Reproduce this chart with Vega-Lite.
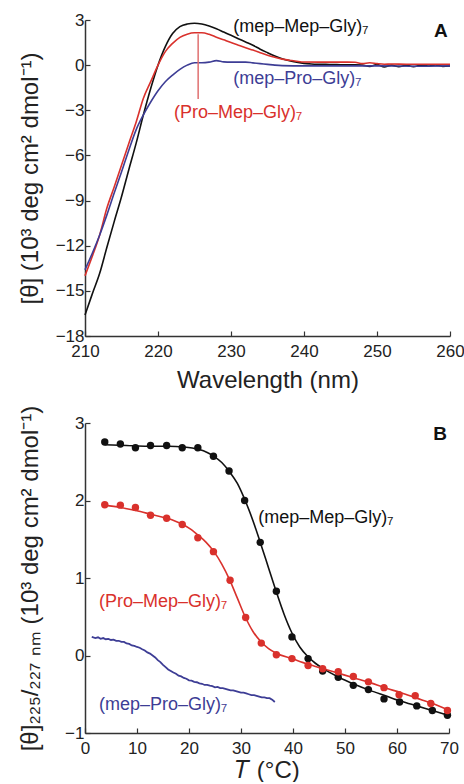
{
  "$schema": "https://vega.github.io/schema/vega-lite/v6.json",
  "padding": {"left": 18, "top": 11, "right": 0, "bottom": 0},
  "spacing": 13,
  "config": {
    "font": "Liberation Sans",
    "view": {"stroke": null},
    "axis": {
      "grid": false,
      "domainColor": "#333",
      "domainWidth": 1.5,
      "tickColor": "#333",
      "tickWidth": 1.2,
      "tickSize": -5,
      "labelFontSize": 17,
      "labelColor": "#222",
      "labelFlush": false,
      "titleFontSize": 24,
      "titleFontWeight": "normal",
      "titleColor": "#222",
      "labelFont": "Liberation Sans",
      "titleFont": "Liberation Sans"
    }
  },
  "datasets": {
    "cd": [
      {"series": "mep-Mep-Gly", "wl": 210, "theta": -16.6}, {"series": "mep-Mep-Gly", "wl": 211, "theta": -15.2}, {"series": "mep-Mep-Gly", "wl": 212, "theta": -13.85}, {"series": "mep-Mep-Gly", "wl": 213, "theta": -12.1}, {"series": "mep-Mep-Gly", "wl": 214, "theta": -10.4}, {"series": "mep-Mep-Gly", "wl": 215, "theta": -8.75}, {"series": "mep-Mep-Gly", "wl": 216, "theta": -6.95}, {"series": "mep-Mep-Gly", "wl": 217, "theta": -5.2}, {"series": "mep-Mep-Gly", "wl": 218, "theta": -3.3}, {"series": "mep-Mep-Gly", "wl": 219, "theta": -1.55}, {"series": "mep-Mep-Gly", "wl": 220, "theta": 0.0}, {"series": "mep-Mep-Gly", "wl": 221, "theta": 1.23}, {"series": "mep-Mep-Gly", "wl": 222, "theta": 2.1}, {"series": "mep-Mep-Gly", "wl": 223, "theta": 2.56}, {"series": "mep-Mep-Gly", "wl": 224, "theta": 2.73}, {"series": "mep-Mep-Gly", "wl": 225, "theta": 2.78}, {"series": "mep-Mep-Gly", "wl": 226, "theta": 2.73}, {"series": "mep-Mep-Gly", "wl": 227, "theta": 2.6}, {"series": "mep-Mep-Gly", "wl": 228, "theta": 2.42}, {"series": "mep-Mep-Gly", "wl": 229, "theta": 2.2}, {"series": "mep-Mep-Gly", "wl": 230, "theta": 1.98}, {"series": "mep-Mep-Gly", "wl": 231, "theta": 1.76}, {"series": "mep-Mep-Gly", "wl": 232, "theta": 1.54}, {"series": "mep-Mep-Gly", "wl": 233, "theta": 1.32}, {"series": "mep-Mep-Gly", "wl": 234, "theta": 1.06}, {"series": "mep-Mep-Gly", "wl": 235, "theta": 0.83}, {"series": "mep-Mep-Gly", "wl": 236, "theta": 0.61}, {"series": "mep-Mep-Gly", "wl": 237, "theta": 0.43}, {"series": "mep-Mep-Gly", "wl": 238, "theta": 0.3}, {"series": "mep-Mep-Gly", "wl": 239, "theta": 0.2}, {"series": "mep-Mep-Gly", "wl": 240, "theta": 0.12}, {"series": "mep-Mep-Gly", "wl": 241, "theta": 0.08}, {"series": "mep-Mep-Gly", "wl": 242, "theta": 0.06}, {"series": "mep-Mep-Gly", "wl": 243, "theta": 0.05}, {"series": "mep-Mep-Gly", "wl": 244, "theta": 0.04}, {"series": "mep-Mep-Gly", "wl": 245, "theta": 0.03}, {"series": "mep-Mep-Gly", "wl": 246, "theta": 0.02}, {"series": "mep-Mep-Gly", "wl": 247, "theta": 0.02}, {"series": "mep-Mep-Gly", "wl": 248, "theta": 0.0}, {"series": "mep-Mep-Gly", "wl": 249, "theta": -0.08}, {"series": "mep-Mep-Gly", "wl": 250, "theta": 0.04}, {"series": "mep-Mep-Gly", "wl": 251, "theta": -0.12}, {"series": "mep-Mep-Gly", "wl": 252, "theta": 0.0}, {"series": "mep-Mep-Gly", "wl": 253, "theta": -0.1}, {"series": "mep-Mep-Gly", "wl": 254, "theta": 0.0}, {"series": "mep-Mep-Gly", "wl": 255, "theta": -0.1}, {"series": "mep-Mep-Gly", "wl": 256, "theta": 0.0}, {"series": "mep-Mep-Gly", "wl": 257, "theta": -0.06}, {"series": "mep-Mep-Gly", "wl": 258, "theta": 0.02}, {"series": "mep-Mep-Gly", "wl": 259, "theta": -0.08}, {"series": "mep-Mep-Gly", "wl": 260, "theta": -0.06},
      {"series": "Pro-Mep-Gly", "wl": 210, "theta": -14.0}, {"series": "Pro-Mep-Gly", "wl": 211, "theta": -12.7}, {"series": "Pro-Mep-Gly", "wl": 212, "theta": -11.3}, {"series": "Pro-Mep-Gly", "wl": 213, "theta": -9.5}, {"series": "Pro-Mep-Gly", "wl": 214, "theta": -8.1}, {"series": "Pro-Mep-Gly", "wl": 215, "theta": -6.65}, {"series": "Pro-Mep-Gly", "wl": 216, "theta": -5.2}, {"series": "Pro-Mep-Gly", "wl": 217, "theta": -3.8}, {"series": "Pro-Mep-Gly", "wl": 218, "theta": -2.2}, {"series": "Pro-Mep-Gly", "wl": 219, "theta": -1.1}, {"series": "Pro-Mep-Gly", "wl": 220, "theta": 0.0}, {"series": "Pro-Mep-Gly", "wl": 221, "theta": 0.9}, {"series": "Pro-Mep-Gly", "wl": 222, "theta": 1.45}, {"series": "Pro-Mep-Gly", "wl": 223, "theta": 1.85}, {"series": "Pro-Mep-Gly", "wl": 224, "theta": 2.06}, {"series": "Pro-Mep-Gly", "wl": 225, "theta": 2.15}, {"series": "Pro-Mep-Gly", "wl": 226, "theta": 2.15}, {"series": "Pro-Mep-Gly", "wl": 227, "theta": 2.05}, {"series": "Pro-Mep-Gly", "wl": 228, "theta": 1.86}, {"series": "Pro-Mep-Gly", "wl": 229, "theta": 1.68}, {"series": "Pro-Mep-Gly", "wl": 230, "theta": 1.5}, {"series": "Pro-Mep-Gly", "wl": 231, "theta": 1.33}, {"series": "Pro-Mep-Gly", "wl": 232, "theta": 1.16}, {"series": "Pro-Mep-Gly", "wl": 233, "theta": 1.0}, {"series": "Pro-Mep-Gly", "wl": 234, "theta": 0.83}, {"series": "Pro-Mep-Gly", "wl": 235, "theta": 0.66}, {"series": "Pro-Mep-Gly", "wl": 236, "theta": 0.52}, {"series": "Pro-Mep-Gly", "wl": 237, "theta": 0.4}, {"series": "Pro-Mep-Gly", "wl": 238, "theta": 0.33}, {"series": "Pro-Mep-Gly", "wl": 239, "theta": 0.26}, {"series": "Pro-Mep-Gly", "wl": 240, "theta": 0.21}, {"series": "Pro-Mep-Gly", "wl": 242, "theta": 0.2}, {"series": "Pro-Mep-Gly", "wl": 244, "theta": 0.2}, {"series": "Pro-Mep-Gly", "wl": 246, "theta": 0.2}, {"series": "Pro-Mep-Gly", "wl": 247, "theta": 0.19}, {"series": "Pro-Mep-Gly", "wl": 248, "theta": 0.1}, {"series": "Pro-Mep-Gly", "wl": 249, "theta": 0.16}, {"series": "Pro-Mep-Gly", "wl": 250, "theta": 0.1}, {"series": "Pro-Mep-Gly", "wl": 251, "theta": 0.06}, {"series": "Pro-Mep-Gly", "wl": 252, "theta": 0.08}, {"series": "Pro-Mep-Gly", "wl": 254, "theta": 0.06}, {"series": "Pro-Mep-Gly", "wl": 256, "theta": 0.06}, {"series": "Pro-Mep-Gly", "wl": 258, "theta": 0.06}, {"series": "Pro-Mep-Gly", "wl": 260, "theta": 0.05},
      {"series": "mep-Pro-Gly", "wl": 210, "theta": -13.6}, {"series": "mep-Pro-Gly", "wl": 211, "theta": -12.5}, {"series": "mep-Pro-Gly", "wl": 212, "theta": -11.3}, {"series": "mep-Pro-Gly", "wl": 213, "theta": -9.95}, {"series": "mep-Pro-Gly", "wl": 214, "theta": -8.5}, {"series": "mep-Pro-Gly", "wl": 215, "theta": -7.1}, {"series": "mep-Pro-Gly", "wl": 216, "theta": -5.65}, {"series": "mep-Pro-Gly", "wl": 217, "theta": -4.3}, {"series": "mep-Pro-Gly", "wl": 218, "theta": -3.3}, {"series": "mep-Pro-Gly", "wl": 219, "theta": -2.45}, {"series": "mep-Pro-Gly", "wl": 220, "theta": -1.7}, {"series": "mep-Pro-Gly", "wl": 221, "theta": -1.1}, {"series": "mep-Pro-Gly", "wl": 222, "theta": -0.66}, {"series": "mep-Pro-Gly", "wl": 223, "theta": -0.28}, {"series": "mep-Pro-Gly", "wl": 224, "theta": 0.0}, {"series": "mep-Pro-Gly", "wl": 225, "theta": 0.16}, {"series": "mep-Pro-Gly", "wl": 226, "theta": 0.16}, {"series": "mep-Pro-Gly", "wl": 227, "theta": 0.2}, {"series": "mep-Pro-Gly", "wl": 228, "theta": 0.3}, {"series": "mep-Pro-Gly", "wl": 229, "theta": 0.22}, {"series": "mep-Pro-Gly", "wl": 230, "theta": 0.2}, {"series": "mep-Pro-Gly", "wl": 232, "theta": 0.2}, {"series": "mep-Pro-Gly", "wl": 233, "theta": 0.15}, {"series": "mep-Pro-Gly", "wl": 234, "theta": 0.1}, {"series": "mep-Pro-Gly", "wl": 235, "theta": 0.05}, {"series": "mep-Pro-Gly", "wl": 236, "theta": 0.0}, {"series": "mep-Pro-Gly", "wl": 237, "theta": -0.03}, {"series": "mep-Pro-Gly", "wl": 240, "theta": -0.05}, {"series": "mep-Pro-Gly", "wl": 245, "theta": -0.05}, {"series": "mep-Pro-Gly", "wl": 250, "theta": -0.05}, {"series": "mep-Pro-Gly", "wl": 255, "theta": -0.07}, {"series": "mep-Pro-Gly", "wl": 260, "theta": -0.05}
    ],
    "cdLabels": [
      {"series": "mep-Mep-Gly", "label": "(mep–Mep–Gly)₇", "wl": 230.3, "theta": 2.55},
      {"series": "mep-Pro-Gly", "label": "(mep–Pro–Gly)₇", "wl": 230.3, "theta": -0.92},
      {"series": "Pro-Mep-Gly", "label": "(Pro–Mep–Gly)₇", "wl": 222.2, "theta": -3.2}
    ],
    "meltPoints": [
      {"series": "mep-Mep-Gly", "T": 3.8, "theta": 2.755}, {"series": "mep-Mep-Gly", "T": 6.8, "theta": 2.73}, {"series": "mep-Mep-Gly", "T": 9.7, "theta": 2.68}, {"series": "mep-Mep-Gly", "T": 12.6, "theta": 2.71}, {"series": "mep-Mep-Gly", "T": 15.7, "theta": 2.71}, {"series": "mep-Mep-Gly", "T": 18.7, "theta": 2.68}, {"series": "mep-Mep-Gly", "T": 21.7, "theta": 2.68}, {"series": "mep-Mep-Gly", "T": 24.7, "theta": 2.57}, {"series": "mep-Mep-Gly", "T": 27.7, "theta": 2.38}, {"series": "mep-Mep-Gly", "T": 30.7, "theta": 2.0}, {"series": "mep-Mep-Gly", "T": 33.7, "theta": 1.46}, {"series": "mep-Mep-Gly", "T": 36.8, "theta": 0.83}, {"series": "mep-Mep-Gly", "T": 39.8, "theta": 0.24}, {"series": "mep-Mep-Gly", "T": 42.9, "theta": -0.04}, {"series": "mep-Mep-Gly", "T": 45.7, "theta": -0.2}, {"series": "mep-Mep-Gly", "T": 48.7, "theta": -0.28}, {"series": "mep-Mep-Gly", "T": 51.6, "theta": -0.385}, {"series": "mep-Mep-Gly", "T": 54.5, "theta": -0.44}, {"series": "mep-Mep-Gly", "T": 57.5, "theta": -0.56}, {"series": "mep-Mep-Gly", "T": 60.5, "theta": -0.6}, {"series": "mep-Mep-Gly", "T": 63.8, "theta": -0.65}, {"series": "mep-Mep-Gly", "T": 66.8, "theta": -0.71}, {"series": "mep-Mep-Gly", "T": 69.7, "theta": -0.77},
      {"series": "Pro-Mep-Gly", "T": 3.8, "theta": 1.946}, {"series": "Pro-Mep-Gly", "T": 6.8, "theta": 1.94}, {"series": "Pro-Mep-Gly", "T": 9.7, "theta": 1.91}, {"series": "Pro-Mep-Gly", "T": 12.6, "theta": 1.81}, {"series": "Pro-Mep-Gly", "T": 15.7, "theta": 1.77}, {"series": "Pro-Mep-Gly", "T": 18.7, "theta": 1.69}, {"series": "Pro-Mep-Gly", "T": 21.7, "theta": 1.52}, {"series": "Pro-Mep-Gly", "T": 24.7, "theta": 1.34}, {"series": "Pro-Mep-Gly", "T": 27.9, "theta": 0.97}, {"series": "Pro-Mep-Gly", "T": 30.9, "theta": 0.49}, {"series": "Pro-Mep-Gly", "T": 33.9, "theta": 0.16}, {"series": "Pro-Mep-Gly", "T": 36.8, "theta": 0.01}, {"series": "Pro-Mep-Gly", "T": 39.8, "theta": -0.04}, {"series": "Pro-Mep-Gly", "T": 42.9, "theta": -0.13}, {"series": "Pro-Mep-Gly", "T": 45.7, "theta": -0.17}, {"series": "Pro-Mep-Gly", "T": 48.7, "theta": -0.21}, {"series": "Pro-Mep-Gly", "T": 51.6, "theta": -0.27}, {"series": "Pro-Mep-Gly", "T": 54.5, "theta": -0.34}, {"series": "Pro-Mep-Gly", "T": 57.5, "theta": -0.415}, {"series": "Pro-Mep-Gly", "T": 60.4, "theta": -0.505}, {"series": "Pro-Mep-Gly", "T": 63.5, "theta": -0.52}, {"series": "Pro-Mep-Gly", "T": 66.5, "theta": -0.62}, {"series": "Pro-Mep-Gly", "T": 69.7, "theta": -0.71}
    ],
    "meltFit": [
      {"series": "mep-Mep-Gly", "T": 3.8, "theta": 2.72}, {"series": "mep-Mep-Gly", "T": 8, "theta": 2.71}, {"series": "mep-Mep-Gly", "T": 12, "theta": 2.7}, {"series": "mep-Mep-Gly", "T": 16, "theta": 2.7}, {"series": "mep-Mep-Gly", "T": 19, "theta": 2.69}, {"series": "mep-Mep-Gly", "T": 21.8, "theta": 2.66}, {"series": "mep-Mep-Gly", "T": 23.5, "theta": 2.62}, {"series": "mep-Mep-Gly", "T": 24.8, "theta": 2.57}, {"series": "mep-Mep-Gly", "T": 26.3, "theta": 2.49}, {"series": "mep-Mep-Gly", "T": 27.8, "theta": 2.37}, {"series": "mep-Mep-Gly", "T": 29.3, "theta": 2.22}, {"series": "mep-Mep-Gly", "T": 30.8, "theta": 2.0}, {"series": "mep-Mep-Gly", "T": 32.3, "theta": 1.74}, {"series": "mep-Mep-Gly", "T": 33.8, "theta": 1.44}, {"series": "mep-Mep-Gly", "T": 35.3, "theta": 1.13}, {"series": "mep-Mep-Gly", "T": 36.8, "theta": 0.82}, {"series": "mep-Mep-Gly", "T": 38.3, "theta": 0.53}, {"series": "mep-Mep-Gly", "T": 39.8, "theta": 0.29}, {"series": "mep-Mep-Gly", "T": 41.3, "theta": 0.11}, {"series": "mep-Mep-Gly", "T": 42.8, "theta": -0.01}, {"series": "mep-Mep-Gly", "T": 44.3, "theta": -0.1}, {"series": "mep-Mep-Gly", "T": 45.8, "theta": -0.17}, {"series": "mep-Mep-Gly", "T": 48.8, "theta": -0.28}, {"series": "mep-Mep-Gly", "T": 51.8, "theta": -0.37}, {"series": "mep-Mep-Gly", "T": 54.8, "theta": -0.45}, {"series": "mep-Mep-Gly", "T": 57.8, "theta": -0.52}, {"series": "mep-Mep-Gly", "T": 60.8, "theta": -0.59}, {"series": "mep-Mep-Gly", "T": 63.8, "theta": -0.65}, {"series": "mep-Mep-Gly", "T": 66.8, "theta": -0.71}, {"series": "mep-Mep-Gly", "T": 69.8, "theta": -0.77},
      {"series": "Pro-Mep-Gly", "T": 3.8, "theta": 1.94}, {"series": "Pro-Mep-Gly", "T": 6.8, "theta": 1.91}, {"series": "Pro-Mep-Gly", "T": 9.8, "theta": 1.87}, {"series": "Pro-Mep-Gly", "T": 12.8, "theta": 1.82}, {"series": "Pro-Mep-Gly", "T": 15.8, "theta": 1.77}, {"series": "Pro-Mep-Gly", "T": 18.8, "theta": 1.69}, {"series": "Pro-Mep-Gly", "T": 20.3, "theta": 1.63}, {"series": "Pro-Mep-Gly", "T": 21.8, "theta": 1.55}, {"series": "Pro-Mep-Gly", "T": 23.3, "theta": 1.46}, {"series": "Pro-Mep-Gly", "T": 24.8, "theta": 1.34}, {"series": "Pro-Mep-Gly", "T": 26.3, "theta": 1.18}, {"series": "Pro-Mep-Gly", "T": 27.8, "theta": 0.98}, {"series": "Pro-Mep-Gly", "T": 29.3, "theta": 0.74}, {"series": "Pro-Mep-Gly", "T": 30.8, "theta": 0.5}, {"series": "Pro-Mep-Gly", "T": 32.3, "theta": 0.31}, {"series": "Pro-Mep-Gly", "T": 33.8, "theta": 0.18}, {"series": "Pro-Mep-Gly", "T": 35.3, "theta": 0.09}, {"series": "Pro-Mep-Gly", "T": 36.8, "theta": 0.03}, {"series": "Pro-Mep-Gly", "T": 39.8, "theta": -0.04}, {"series": "Pro-Mep-Gly", "T": 42.8, "theta": -0.11}, {"series": "Pro-Mep-Gly", "T": 45.8, "theta": -0.17}, {"series": "Pro-Mep-Gly", "T": 48.8, "theta": -0.23}, {"series": "Pro-Mep-Gly", "T": 51.8, "theta": -0.29}, {"series": "Pro-Mep-Gly", "T": 54.8, "theta": -0.35}, {"series": "Pro-Mep-Gly", "T": 57.8, "theta": -0.42}, {"series": "Pro-Mep-Gly", "T": 60.8, "theta": -0.48}, {"series": "Pro-Mep-Gly", "T": 63.8, "theta": -0.55}, {"series": "Pro-Mep-Gly", "T": 66.8, "theta": -0.62}, {"series": "Pro-Mep-Gly", "T": 69.8, "theta": -0.7}
    ],
    "meltBlue": [
      {"series": "mep-Pro-Gly", "T": 1.3, "theta": 0.24}, {"series": "mep-Pro-Gly", "T": 2, "theta": 0.225}, {"series": "mep-Pro-Gly", "T": 2.5, "theta": 0.235}, {"series": "mep-Pro-Gly", "T": 3, "theta": 0.215}, {"series": "mep-Pro-Gly", "T": 3.5, "theta": 0.225}, {"series": "mep-Pro-Gly", "T": 4, "theta": 0.21}, {"series": "mep-Pro-Gly", "T": 4.5, "theta": 0.215}, {"series": "mep-Pro-Gly", "T": 5, "theta": 0.2}, {"series": "mep-Pro-Gly", "T": 5.5, "theta": 0.205}, {"series": "mep-Pro-Gly", "T": 6, "theta": 0.19}, {"series": "mep-Pro-Gly", "T": 6.5, "theta": 0.19}, {"series": "mep-Pro-Gly", "T": 7, "theta": 0.175}, {"series": "mep-Pro-Gly", "T": 7.5, "theta": 0.175}, {"series": "mep-Pro-Gly", "T": 8, "theta": 0.155}, {"series": "mep-Pro-Gly", "T": 8.5, "theta": 0.15}, {"series": "mep-Pro-Gly", "T": 9, "theta": 0.13}, {"series": "mep-Pro-Gly", "T": 9.5, "theta": 0.125}, {"series": "mep-Pro-Gly", "T": 10, "theta": 0.11}, {"series": "mep-Pro-Gly", "T": 10.5, "theta": 0.1}, {"series": "mep-Pro-Gly", "T": 11, "theta": 0.08}, {"series": "mep-Pro-Gly", "T": 11.5, "theta": 0.065}, {"series": "mep-Pro-Gly", "T": 12, "theta": 0.04}, {"series": "mep-Pro-Gly", "T": 12.5, "theta": 0.025}, {"series": "mep-Pro-Gly", "T": 13, "theta": 0.0}, {"series": "mep-Pro-Gly", "T": 13.5, "theta": -0.025}, {"series": "mep-Pro-Gly", "T": 14, "theta": -0.06}, {"series": "mep-Pro-Gly", "T": 14.5, "theta": -0.085}, {"series": "mep-Pro-Gly", "T": 15, "theta": -0.12}, {"series": "mep-Pro-Gly", "T": 15.5, "theta": -0.15}, {"series": "mep-Pro-Gly", "T": 16, "theta": -0.18}, {"series": "mep-Pro-Gly", "T": 16.5, "theta": -0.2}, {"series": "mep-Pro-Gly", "T": 17, "theta": -0.22}, {"series": "mep-Pro-Gly", "T": 17.5, "theta": -0.235}, {"series": "mep-Pro-Gly", "T": 18, "theta": -0.26}, {"series": "mep-Pro-Gly", "T": 18.5, "theta": -0.27}, {"series": "mep-Pro-Gly", "T": 19, "theta": -0.29}, {"series": "mep-Pro-Gly", "T": 19.5, "theta": -0.3}, {"series": "mep-Pro-Gly", "T": 20, "theta": -0.32}, {"series": "mep-Pro-Gly", "T": 20.5, "theta": -0.325}, {"series": "mep-Pro-Gly", "T": 21, "theta": -0.34}, {"series": "mep-Pro-Gly", "T": 21.5, "theta": -0.345}, {"series": "mep-Pro-Gly", "T": 22, "theta": -0.36}, {"series": "mep-Pro-Gly", "T": 22.5, "theta": -0.365}, {"series": "mep-Pro-Gly", "T": 23, "theta": -0.38}, {"series": "mep-Pro-Gly", "T": 23.5, "theta": -0.38}, {"series": "mep-Pro-Gly", "T": 24, "theta": -0.39}, {"series": "mep-Pro-Gly", "T": 24.5, "theta": -0.395}, {"series": "mep-Pro-Gly", "T": 25, "theta": -0.41}, {"series": "mep-Pro-Gly", "T": 25.5, "theta": -0.405}, {"series": "mep-Pro-Gly", "T": 26, "theta": -0.42}, {"series": "mep-Pro-Gly", "T": 26.5, "theta": -0.42}, {"series": "mep-Pro-Gly", "T": 27, "theta": -0.43}, {"series": "mep-Pro-Gly", "T": 27.5, "theta": -0.44}, {"series": "mep-Pro-Gly", "T": 28, "theta": -0.45}, {"series": "mep-Pro-Gly", "T": 28.5, "theta": -0.45}, {"series": "mep-Pro-Gly", "T": 29, "theta": -0.46}, {"series": "mep-Pro-Gly", "T": 29.5, "theta": -0.47}, {"series": "mep-Pro-Gly", "T": 30, "theta": -0.48}, {"series": "mep-Pro-Gly", "T": 30.5, "theta": -0.48}, {"series": "mep-Pro-Gly", "T": 31, "theta": -0.49}, {"series": "mep-Pro-Gly", "T": 31.5, "theta": -0.5}, {"series": "mep-Pro-Gly", "T": 32, "theta": -0.51}, {"series": "mep-Pro-Gly", "T": 32.5, "theta": -0.51}, {"series": "mep-Pro-Gly", "T": 33, "theta": -0.52}, {"series": "mep-Pro-Gly", "T": 33.5, "theta": -0.53}, {"series": "mep-Pro-Gly", "T": 34, "theta": -0.54}, {"series": "mep-Pro-Gly", "T": 34.5, "theta": -0.54}, {"series": "mep-Pro-Gly", "T": 35, "theta": -0.55}, {"series": "mep-Pro-Gly", "T": 35.5, "theta": -0.55}, {"series": "mep-Pro-Gly", "T": 36, "theta": -0.57}, {"series": "mep-Pro-Gly", "T": 36.5, "theta": -0.6}
    ],
    "meltLabels": [
      {"series": "mep-Mep-Gly", "label": "(mep–Mep–Gly)₇", "T": 33.3, "theta": 1.77},
      {"series": "Pro-Mep-Gly", "label": "(Pro–Mep–Gly)₇", "T": 2.7, "theta": 0.69},
      {"series": "mep-Pro-Gly", "label": "(mep–Pro–Gly)₇", "T": 2.7, "theta": -0.64}
    ]
  },
  "vconcat": [
    {
      "width": 365,
      "height": 316,
      "layer": [
        {
          "data": {"name": "cd"},
          "mark": {"type": "line", "strokeWidth": 1.6, "interpolate": "monotone"},
          "encoding": {
            "x": {"field": "wl", "type": "quantitative", "scale": {"domain": [210, 260], "nice": false}, "axis": {"values": [210, 220, 230, 240, 250, 260], "title": "Wavelength (nm)", "labelPadding": 12, "titlePadding": 9}},
            "y": {"field": "theta", "type": "quantitative", "scale": {"domain": [-18, 3], "nice": false}, "axis": {"values": [-18, -15, -12, -9, -6, -3, 0, 3], "title": "[θ] (10³ deg cm² dmol⁻¹)", "labelPadding": 6, "titleX": -55, "titleBaseline": "middle"}},
            "color": {"field": "series", "type": "nominal", "scale": {"domain": ["mep-Mep-Gly", "Pro-Mep-Gly", "mep-Pro-Gly"], "range": ["#111111", "#d9312c", "#3d3d95"]}, "legend": null}
          }
        },
        {
          "data": {"values": [{"wl": 225.5, "top": 2.05, "bottom": -2.25}]},
          "mark": {"type": "rule", "color": "#e07070", "strokeWidth": 1.5},
          "encoding": {
            "x": {"field": "wl", "type": "quantitative"},
            "y": {"field": "top", "type": "quantitative"},
            "y2": {"field": "bottom"}
          }
        },
        {
          "data": {"name": "cdLabels"},
          "mark": {"type": "text", "align": "left", "baseline": "middle", "fontSize": 18},
          "encoding": {
            "x": {"field": "wl", "type": "quantitative"},
            "y": {"field": "theta", "type": "quantitative"},
            "text": {"field": "label"},
            "color": {"field": "series", "type": "nominal", "legend": null}
          }
        },
        {
          "data": {"values": [{"wl": 259.7, "theta": 2.27, "label": "A"}]},
          "mark": {"type": "text", "align": "right", "baseline": "middle", "fontSize": 19, "fontWeight": "bold", "color": "#111"},
          "encoding": {
            "x": {"field": "wl", "type": "quantitative"},
            "y": {"field": "theta", "type": "quantitative"},
            "text": {"field": "label"}
          }
        }
      ]
    },
    {
      "width": 364,
      "height": 310,
      "layer": [
        {
          "data": {"name": "meltFit"},
          "mark": {"type": "line", "strokeWidth": 1.6, "interpolate": "monotone"},
          "encoding": {
            "x": {"field": "T", "type": "quantitative", "scale": {"domain": [0, 70], "nice": false}, "axis": {"values": [0, 10, 20, 30, 40, 50, 60, 70], "title": "𝑇 (°C)", "labelPadding": 12, "titlePadding": 2}},
            "y": {"field": "theta", "type": "quantitative", "scale": {"domain": [-1, 3], "nice": false}, "axis": {"values": [-1, -0.5, 0, 0.5, 1, 1.5, 2, 2.5, 3], "format": "d", "labelExpr": "datum.value % 1 === 0 ? datum.label : ''", "title": "[θ]₂₂₅/₂₂₇ ₙₘ (10³ deg cm² dmol⁻¹)", "labelPadding": 6, "titleX": -55, "titleBaseline": "middle"}},
            "color": {"field": "series", "type": "nominal", "scale": {"domain": ["mep-Mep-Gly", "Pro-Mep-Gly", "mep-Pro-Gly"], "range": ["#111111", "#d9312c", "#3d3d95"]}, "legend": null}
          }
        },
        {
          "data": {"name": "meltPoints"},
          "mark": {"type": "point", "filled": true, "opacity": 1, "size": 55},
          "encoding": {
            "x": {"field": "T", "type": "quantitative"},
            "y": {"field": "theta", "type": "quantitative"},
            "color": {"field": "series", "type": "nominal", "legend": null}
          }
        },
        {
          "data": {"name": "meltBlue"},
          "mark": {"type": "line", "strokeWidth": 1.8},
          "encoding": {
            "x": {"field": "T", "type": "quantitative"},
            "y": {"field": "theta", "type": "quantitative"},
            "color": {"field": "series", "type": "nominal", "legend": null}
          }
        },
        {
          "data": {"name": "meltLabels"},
          "mark": {"type": "text", "align": "left", "baseline": "middle", "fontSize": 18},
          "encoding": {
            "x": {"field": "T", "type": "quantitative"},
            "y": {"field": "theta", "type": "quantitative"},
            "text": {"field": "label"},
            "color": {"field": "series", "type": "nominal", "legend": null}
          }
        },
        {
          "data": {"values": [{"T": 69.6, "theta": 2.86, "label": "B"}]},
          "mark": {"type": "text", "align": "right", "baseline": "middle", "fontSize": 19, "fontWeight": "bold", "color": "#111"},
          "encoding": {
            "x": {"field": "T", "type": "quantitative"},
            "y": {"field": "theta", "type": "quantitative"},
            "text": {"field": "label"}
          }
        }
      ]
    }
  ]
}
